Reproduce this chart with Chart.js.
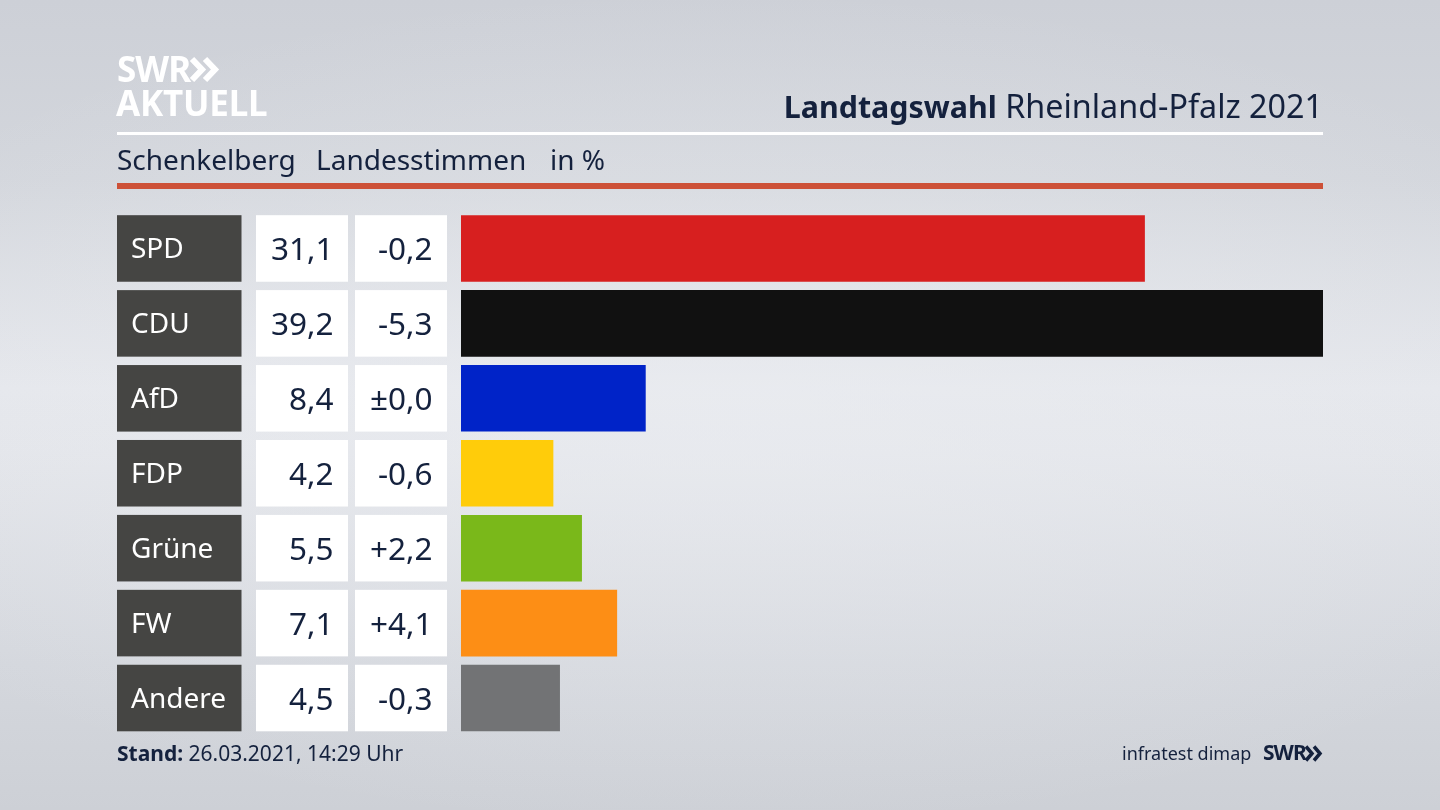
<!DOCTYPE html>
<html lang="de">
<head>
<meta charset="utf-8">
<title>Landtagswahl Rheinland-Pfalz 2021</title>
<script src="https://cdn.jsdelivr.net/npm/chart.js@4/dist/chart.umd.min.js"></script>
<style>
  html, body { margin: 0; width: 1440px; height: 810px; overflow: hidden; }
  body {
    position: relative;
    font-family: "Noto Sans", sans-serif;
    color: #14213d;
    background:
      radial-gradient(ellipse 1000px 420px at 720px 410px, rgba(236,238,242,.55) 0%, rgba(236,238,242,0) 100%),
      linear-gradient(180deg, #cdd0d7 0%, #d3d6dc 22%, #e5e7ec 48%, #e3e5ea 56%, #d4d7dd 82%, #cdd0d6 100%);
  }
  canvas { position: absolute; left: 0; top: 0; }
  .t { position: absolute; white-space: nowrap; line-height: 1; }
  .rule { position: absolute; left: 117px; width: 1206px; }
</style>
</head>
<body>
<canvas id="myChart" width="1440" height="810"></canvas>

<div class="t" style="left:117px;top:51px;font-size:35px;font-weight:700;color:#fff;letter-spacing:-1px">SWR</div>
<svg style="position:absolute;left:189px;top:56px" width="32" height="28" fill="none" stroke="#fff" stroke-width="6">
  <path d="M3 3 L13 13.500 L3 24"/><path d="M16 3 L26 13.500 L16 24"/>
</svg>
<div class="t" style="left:116px;top:85px;font-size:35px;font-weight:700;color:#fff;letter-spacing:-.2px">AKTUELL</div>

<div class="t" style="right:117px;top:89px;font-size:32.300px"><b style="font-size:30.400px">Landtagswahl</b> Rheinland-Pfalz 2021</div>
<div class="rule" style="top:132px;height:3px;background:#fff"></div>

<div class="t" style="left:117px;top:145px;font-size:28px">Schenkelberg</div>
<div class="t" style="left:316px;top:145px;font-size:28px">Landesstimmen</div>
<div class="t" style="left:550px;top:145px;font-size:28px">in %</div>
<div class="rule" style="top:183px;height:6px;background:#cd5138"></div>

<div class="t" style="left:117px;top:743px;font-size:21px"><b>Stand:</b> 26.03.2021, 14:29 Uhr</div>
<div class="t" style="left:1122px;top:744px;font-size:18px">infratest dimap</div>
<div class="t" style="left:1263px;top:742px;font-size:21px;font-weight:700;letter-spacing:-1px">SWR</div>
<svg style="position:absolute;left:1304px;top:745px" width="20" height="17" fill="none" stroke="#14213d" stroke-width="3.500">
  <path d="M2 1.500 L8 8.500 L2 15.500"/><path d="M10 1.500 L16 8.500 L10 15.500"/>
</svg>

<script>
const parties = ['SPD', 'CDU', 'AfD', 'FDP', 'Grüne', 'FW', 'Andere']
const shares = [31.1, 39.2, 8.4, 4.2, 5.5, 7.1, 4.5]
const changes = ['-0,2', '-5,3', '±0,0', '-0,6', '+2,2', '+4,1', '-0,3']
const barColors = ['#d71f1f', '#111111', '#0023c8', '#ffcc0a', '#7ab81a', '#fd8e15', '#727375']

// Linke Tabelle neben den Balken: Partei, Ergebnis, Differenz
const tablePlugin = {
  id: 'tablePlugin',
  afterDatasetsDraw(chart) {
    const c = chart.ctx
    chart.getDatasetMeta(0).data.forEach((bar, i) => {
      const top = bar.y - bar.height / 2
      c.fillStyle = '#454543'
      c.fillRect(117, top, 124.5, bar.height)
      c.fillStyle = '#ffffff'
      c.fillRect(256, top, 92, bar.height)
      c.fillRect(355, top, 92, bar.height)

      c.textBaseline = 'middle'
      c.font = '28px "Noto Sans"'
      c.textAlign = 'left'
      c.fillStyle = '#ffffff'
      c.fillText(parties[i], 131, bar.y + 2)

      c.font = '31.5px "Noto Sans"'
      c.textAlign = 'right'
      c.fillStyle = '#14213d'
      c.fillText(shares[i].toFixed(1).replace('.', ','), 333.5, bar.y + 3)
      c.fillText(changes[i], 432.5, bar.y + 3)
    })
  }
}

const myChart = new Chart(document.getElementById('myChart'), {
  type: 'bar',
  data: {
    labels: parties,
    datasets: [{
      data: shares,
      backgroundColor: barColors,
      borderWidth: 0,
      barPercentage: 0.888,
      categoryPercentage: 1
    }]
  },
  options: {
    indexAxis: 'y',
    responsive: false,
    animation: false,
    layout: { padding: { left: 461, right: 117, top: 211, bottom: 74.5 } },
    scales: {
      x: { display: false, min: 0, max: 39.2 },
      y: { display: false }
    },
    plugins: {
      legend: { display: false },
      tooltip: { enabled: false }
    }
  },
  plugins: [tablePlugin]
})
</script>
</body>
</html>
